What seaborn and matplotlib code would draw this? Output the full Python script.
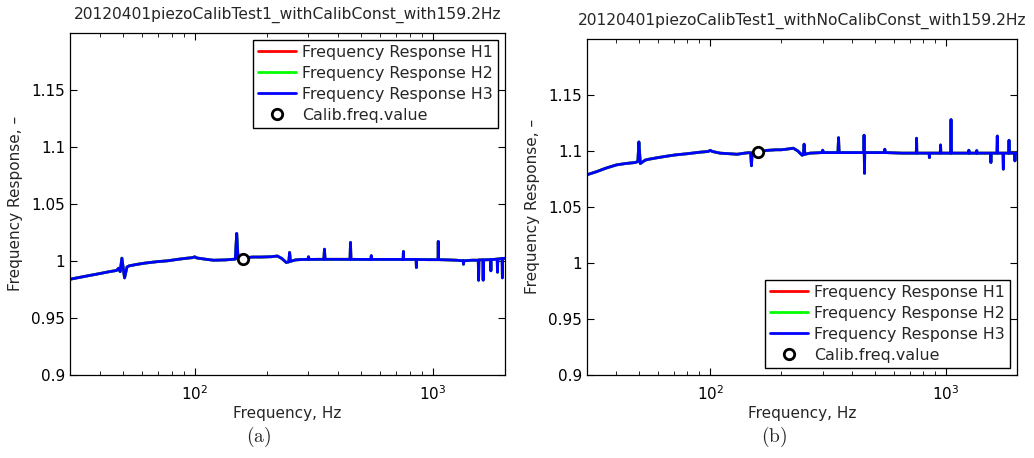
import matplotlib
matplotlib.use('Agg')
import matplotlib.pyplot as plt
import seaborn as sns

# panel (a): with calibration constant
freq_a = [30, 33, 36, 40, 44, 47, 48, 48.7, 49.5, 50.8, 52, 53, 57, 62, 70, 77, 85, 92, 98,
          100, 102, 110, 120, 135, 148, 150, 152, 160, 175, 190, 210, 222, 232, 242, 248,
          250, 252, 265, 285, 298, 300, 302, 330, 348, 350, 352, 400, 448, 450, 452, 500,
          548, 550, 552, 650, 748, 750, 752, 800, 848, 850, 852, 950, 1048, 1050, 1052,
          1150, 1250, 1336, 1340, 1344, 1450, 1545, 1550, 1555, 1615, 1620, 1625, 1740,
          1745, 1750, 1855, 1860, 1865, 1945, 1950, 1955, 2000]
resp_a = [0.9838, 0.9855, 0.987, 0.9888, 0.9905, 0.9915, 0.9935, 0.9905, 1.0023, 0.985,
          0.9945, 0.9955, 0.9968, 0.998, 0.9993, 1.0, 1.0013, 1.0022, 1.0028, 1.0035,
          1.0025, 1.0015, 1.0005, 1.0008, 1.0015, 1.024, 1.0018, 1.0025, 1.0033, 1.0033,
          1.0036, 1.0042, 1.002, 0.9985, 0.999, 1.0073, 0.9995, 1.0008, 1.0012, 1.0012,
          1.0035, 1.0012, 1.0013, 1.0013, 1.0102, 1.0013, 1.0013, 1.0013, 1.0161, 1.0013,
          1.0012, 1.0012, 1.0045, 1.0012, 1.0012, 1.0012, 1.0082, 1.0012, 1.0012, 1.0012,
          0.9941, 1.0012, 1.001, 1.001, 1.017, 1.001, 1.0008, 1.0005, 1.0, 0.997, 1.0,
          1.0005, 1.0005, 0.9829, 1.0008, 1.0008, 0.983, 1.0008, 1.001, 0.9912, 1.001,
          1.0015, 0.990, 1.0015, 1.002, 0.985, 1.002, 1.0022]

# panel (b): without calibration constant
freq_b = [30, 33, 36, 40, 44, 48, 49.3, 49.8, 50.5, 53, 55, 60, 65, 71, 80, 90, 98, 100,
          102, 110, 120, 130, 140, 147, 148.5, 149.5, 150.5, 160, 175, 190, 200, 210, 225,
          235, 245, 248, 250, 252, 265, 298, 300, 302, 348, 350, 352, 420, 448, 449, 451,
          452, 548, 550, 552, 650, 748, 750, 752, 848, 850, 852, 945, 948, 951, 1048, 1050,
          1052, 1150, 1248, 1250, 1252, 1348, 1350, 1352, 1450, 1545, 1550, 1555, 1645,
          1650, 1655, 1745, 1750, 1755, 1845, 1850, 1855, 1955, 1960, 1965, 2000]
resp_b = [1.0787, 1.0815, 1.0845, 1.0875, 1.0888, 1.0896, 1.0905, 1.108, 1.0887,
          1.0918, 1.0926, 1.094, 1.0952, 1.0964, 1.0975, 1.0988, 1.0995, 1.1005, 1.0995,
          1.098, 1.0975, 1.097, 1.098, 1.0985, 1.097, 1.0867, 1.0985, 1.0995, 1.1005,
          1.101, 1.101, 1.1015, 1.1024, 1.1, 1.0962, 1.0965, 1.106, 1.097, 1.098, 1.0985,
          1.1006, 1.0985, 1.0985, 1.1118, 1.0985, 1.0985, 1.0985, 1.114, 1.080, 1.0985,
          1.0985, 1.1015, 1.0985, 1.098, 1.098, 1.1113, 1.098, 1.098, 1.094, 1.098, 1.098,
          1.1053, 1.098, 1.098, 1.128, 1.098, 1.098, 1.098, 1.1006, 1.098, 1.098, 1.1003,
          1.098, 1.098, 1.098, 1.0896, 1.098, 1.098, 1.1133, 1.098, 1.098, 1.0837, 1.098,
          1.098, 1.1095, 1.098, 1.098, 1.0911, 1.098, 1.098]

calib_freq = 159.2
calib_a = 1.002
calib_b = 1.0988

titles = ['20120401piezoCalibTest1_withCalibConst_with159.2Hz',
          '20120401piezoCalibTest1_withNoCalibConst_with159.2Hz']
series_names = ['Frequency Response H1', 'Frequency Response H2', 'Frequency Response H3']
series_colors = ['#ff0000', '#00ff00', '#0000ff']
yticks = [0.9, 0.95, 1.0, 1.05, 1.1, 1.15]
ytick_labels = ['0.9', '0.95', '1', '1.05', '1.1', '1.15']

sns.set_style('ticks')
plt.rcParams['font.family'] = ['DejaVu Sans']
plt.rcParams['mathtext.fontset'] = 'cm'

fig = plt.figure(figsize=(10.34, 4.58), dpi=100)
ax_a = fig.add_axes([70/1034, 1-374.7/458, 435/1034, (374.7-33)/458])
ax_b = fig.add_axes([587/1034, 1-374.7/458, 430/1034, (374.7-39)/458])

panels = [(ax_a, freq_a, resp_a, calib_a, 'upper right', '(a)', 259),
          (ax_b, freq_b, resp_b, calib_b, 'lower right', '(b)', 774)]

for i, (ax, fr, rs, cv, loc, tag, tx) in enumerate(panels):
    for name, col in zip(series_names, series_colors):
        sns.lineplot(x=fr, y=rs, ax=ax, color=col, lw=2, sort=False,
                     estimator=None, label=name)
    ax.plot([calib_freq], [cv], 'o', ms=7.5, mew=2, mfc='white', mec='black',
            label='Calib.freq.value', zorder=5)
    ax.set_xscale('log')
    ax.set_xlim(30, 2000)
    ax.set_ylim(0.9, 1.2)
    ax.set_yticks(yticks, ytick_labels)
    ax.tick_params(which='both', direction='in', top=True, right=True,
                   labelsize=11, colors='black')
    ax.tick_params(which='major', length=5, width=0.8)
    ax.tick_params(which='minor', length=3, width=0.6)
    ax.tick_params(axis='x', pad=7)
    for sp in ax.spines.values():
        sp.set_visible(True)
        sp.set_linewidth(0.9)
        sp.set_color('black')
    ax.set_xlabel('Frequency, Hz', fontsize=11, labelpad=2)
    ax.set_ylabel('Frequency Response, \u2013', fontsize=11, labelpad=6)
    ax.set_title(titles[i], fontsize=11.2, pad=10)
    h, l = ax.get_legend_handles_labels()
    leg = ax.legend(h[:4], l[:4], loc=loc, fontsize=11.4, frameon=True, fancybox=False,
                    edgecolor='black', framealpha=1, borderpad=0.3, labelspacing=0.38,
                    handlelength=2.4, handletextpad=0.4, borderaxespad=0.45)
    leg.get_frame().set_linewidth(1.0)
    fig.text(tx/1034, 1-437/458, r'$\mathrm{' + tag + '}$', fontsize=14,
             ha='center', va='center')

fig.savefig('out.png', dpi=100)
